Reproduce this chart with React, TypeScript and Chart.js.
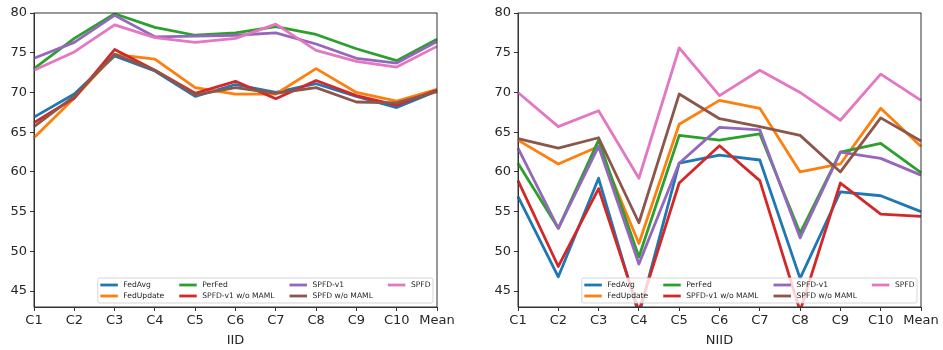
import React, { useEffect, useRef } from 'react';
import { Chart, registerables } from 'chart.js';

Chart.register(...registerables);

const categories = ['C1', 'C2', 'C3', 'C4', 'C5', 'C6', 'C7', 'C8', 'C9', 'C10', 'Mean'];
const yTickValues = [45, 50, 55, 60, 65, 70, 75, 80];
const methods = ['FedAvg', 'FedUpdate', 'PerFed', 'SPFD-v1 w/o MAML', 'SPFD-v1', 'SPFD w/o MAML', 'SPFD'];
const colors = ['#1f77b4', '#ff7f0e', '#2ca02c', '#d62728', '#9467bd', '#8c564b', '#e377c2'];

// IID
const iidFedAvg = [66.9, 69.8, 74.6, 72.7, 69.5, 71.0, 70.0, 71.1, 69.5, 68.1, 70.2];
const iidFedUpdate = [64.3, 69.3, 74.8, 74.2, 70.6, 69.8, 69.8, 73.0, 70.0, 68.9, 70.4];
const iidPerFed = [73.0, 76.8, 79.9, 78.2, 77.2, 77.5, 78.3, 77.3, 75.5, 74.0, 76.7];
const iidSpfdV1NoMaml = [66.2, 69.3, 75.4, 72.8, 69.9, 71.4, 69.2, 71.5, 69.6, 68.4, 70.3];
const iidSpfdV1 = [74.3, 76.3, 79.7, 77.0, 77.1, 77.2, 77.5, 76.1, 74.3, 73.7, 76.4];
const iidSpfdNoMaml = [65.7, 69.5, 74.8, 72.8, 69.7, 70.6, 69.9, 70.6, 68.8, 68.7, 70.1];
const iidSpfd = [72.8, 75.1, 78.5, 76.9, 76.3, 76.8, 78.6, 75.3, 73.9, 73.2, 75.8];

// NIID
const niidFedAvg = [56.9, 46.8, 59.2, 42.0, 61.1, 62.1, 61.5, 46.6, 57.5, 57.0, 55.0];
const niidFedUpdate = [64.0, 61.0, 63.2, 51.0, 66.0, 69.0, 68.0, 60.0, 61.0, 68.0, 63.2];
const niidPerFed = [61.1, 52.9, 64.0, 49.3, 64.6, 64.0, 64.8, 52.3, 62.5, 63.6, 59.9];
const niidSpfdV1NoMaml = [58.9, 48.1, 57.9, 42.5, 58.6, 63.3, 58.9, 42.5, 58.6, 54.7, 54.4];
const niidSpfdV1 = [63.0, 52.9, 63.2, 48.4, 61.1, 65.6, 65.3, 51.7, 62.5, 61.7, 59.6];
const niidSpfdNoMaml = [64.2, 63.0, 64.3, 53.6, 69.8, 66.7, 65.7, 64.6, 60.0, 66.8, 63.9];
const niidSpfd = [70.0, 65.7, 67.7, 59.2, 75.6, 69.6, 72.8, 70.0, 66.5, 72.3, 69.0];

const iidSeries = [iidFedAvg, iidFedUpdate, iidPerFed, iidSpfdV1NoMaml, iidSpfdV1, iidSpfdNoMaml, iidSpfd];
const niidSeries = [niidFedAvg, niidFedUpdate, niidPerFed, niidSpfdV1NoMaml, niidSpfdV1, niidSpfdNoMaml, niidSpfd];

const FONT = '"DejaVu Sans", sans-serif';
const TEXT_COLOR = '#262626';
const AXIS_COLOR = '#333333';

const framePlugin = {
  id: 'frame',
  afterDraw(chart: any) {
    const { ctx, chartArea } = chart;
    ctx.save();
    ctx.strokeStyle = AXIS_COLOR;
    ctx.lineWidth = 1;
    ctx.strokeRect(chartArea.left, chartArea.top, chartArea.right - chartArea.left, chartArea.bottom - chartArea.top);
    ctx.restore();
  },
};

const legendPlugin = {
  id: 'mplLegend',
  afterDatasetsDraw(chart: any) {
    const { ctx, chartArea } = chart;
    const ds = chart.data.datasets;
    const fontSize = 7.6;
    ctx.save();
    ctx.font = `${fontSize}px ${FONT}`;
    const rows = 2;
    const cols = Math.ceil(ds.length / rows);
    const handleLen = 17.5;
    const textOff = 23;
    const colSpacing = 15;
    const pad = 2.5;
    const colWidths: number[] = [];
    for (let c = 0; c < cols; c++) {
      let maxW = 0;
      for (let r = 0; r < rows; r++) {
        const i = c * rows + r;
        if (i < ds.length) maxW = Math.max(maxW, ctx.measureText(ds[i].label).width);
      }
      colWidths.push(textOff + maxW + (c < cols - 1 ? colSpacing : 0));
    }
    const totalW = colWidths.reduce((a, b) => a + b, 0) + pad * 2;
    const boxH = 25;
    const right = chartArea.right - 4;
    const bottom = chartArea.bottom - 4;
    const left = right - totalW;
    const top = bottom - boxH;
    ctx.beginPath();
    const rad = 2;
    ctx.moveTo(left + rad, top);
    ctx.lineTo(right - rad, top);
    ctx.arcTo(right, top, right, top + rad, rad);
    ctx.lineTo(right, bottom - rad);
    ctx.arcTo(right, bottom, right - rad, bottom, rad);
    ctx.lineTo(left + rad, bottom);
    ctx.arcTo(left, bottom, left, bottom - rad, rad);
    ctx.lineTo(left, top + rad);
    ctx.arcTo(left, top, left + rad, top, rad);
    ctx.closePath();
    ctx.fillStyle = 'rgba(255,255,255,0.8)';
    ctx.fill();
    ctx.strokeStyle = 'rgba(204,204,204,0.8)';
    ctx.lineWidth = 1;
    ctx.stroke();
    let x = left + pad;
    const rowY = [top + 7, top + 18];
    ctx.textBaseline = 'middle';
    ctx.textAlign = 'left';
    for (let c = 0; c < cols; c++) {
      for (let r = 0; r < rows; r++) {
        const i = c * rows + r;
        if (i >= ds.length) continue;
        const y = rowY[r];
        ctx.strokeStyle = ds[i].borderColor;
        ctx.lineWidth = 2.8;
        ctx.beginPath();
        ctx.moveTo(x, y);
        ctx.lineTo(x + handleLen, y);
        ctx.stroke();
        ctx.fillStyle = TEXT_COLOR;
        ctx.fillText(ds[i].label, x + textOff, y + 0.5);
      }
      x += colWidths[c];
    }
    ctx.restore();
  },
};

function makeConfig(series: number[][], title: string, yAxisWidth: number, padRight: number): any {
  return {
    type: 'line',
    data: {
      labels: categories,
      datasets: series.map((values, i) => ({
        label: methods[i],
        data: values,
        borderColor: colors[i],
        backgroundColor: colors[i],
        borderWidth: 2.8,
        borderJoinStyle: 'round',
        pointRadius: 0,
        pointHoverRadius: 0,
        tension: 0,
        fill: false,
        order: series.length - i,
      })),
    },
    options: {
      animation: false,
      responsive: false,
      maintainAspectRatio: false,
      events: [],
      layout: { padding: { left: 0, right: padRight, top: 13, bottom: 0 } },
      plugins: {
        legend: { display: false },
        tooltip: { enabled: false },
      },
      scales: {
        x: {
          type: 'category',
          offset: false,
          grid: { drawOnChartArea: false, drawTicks: true, tickLength: 4, color: AXIS_COLOR, lineWidth: 1 },
          border: { display: true, color: AXIS_COLOR, width: 1 },
          ticks: { font: { family: FONT, size: 13 }, color: TEXT_COLOR, padding: 2, maxRotation: 0, minRotation: 0, autoSkip: false },
          title: { display: true, text: title, font: { family: FONT, size: 13 }, color: TEXT_COLOR, padding: { top: 0, bottom: 2 } },
          afterFit: (s: any) => { s.height = 43; },
        },
        y: {
          type: 'linear',
          min: 43,
          max: 80,
          afterBuildTicks: (a: any) => { a.ticks = yTickValues.map((v) => ({ value: v })); },
          grid: { drawOnChartArea: false, drawTicks: true, tickLength: 4, color: AXIS_COLOR, lineWidth: 1 },
          border: { display: true, color: AXIS_COLOR, width: 1 },
          ticks: { font: { family: FONT, size: 13 }, color: TEXT_COLOR, padding: 3 },
          afterFit: (s: any) => { s.width = yAxisWidth; },
        },
      },
    },
    plugins: [framePlugin, legendPlugin],
  };
}

function LineChart(props: { series: number[][]; title: string; left: number; width: number; yAxisWidth: number; padRight: number }) {
  const ref = useRef<HTMLCanvasElement | null>(null);
  useEffect(() => {
    if (!ref.current) return;
    const chart = new Chart(ref.current, makeConfig(props.series, props.title, props.yAxisWidth, props.padRight));
    return () => chart.destroy();
  }, []);
  return (
    <canvas
      ref={ref}
      width={props.width}
      height={350}
      style={{ position: 'absolute', left: props.left, top: 0, width: props.width, height: 350, display: 'block' }}
    />
  );
}

export default function App() {
  return (
    <div style={{ position: 'absolute', left: 0, top: 0, width: 943, height: 350, background: '#fff' }}>
      <LineChart series={iidSeries} title="IID" left={0} width={471} yAxisWidth={34} padRight={34} />
      <LineChart series={niidSeries} title="NIID" left={471} width={472} yAxisWidth={47} padRight={22} />
    </div>
  );
}
